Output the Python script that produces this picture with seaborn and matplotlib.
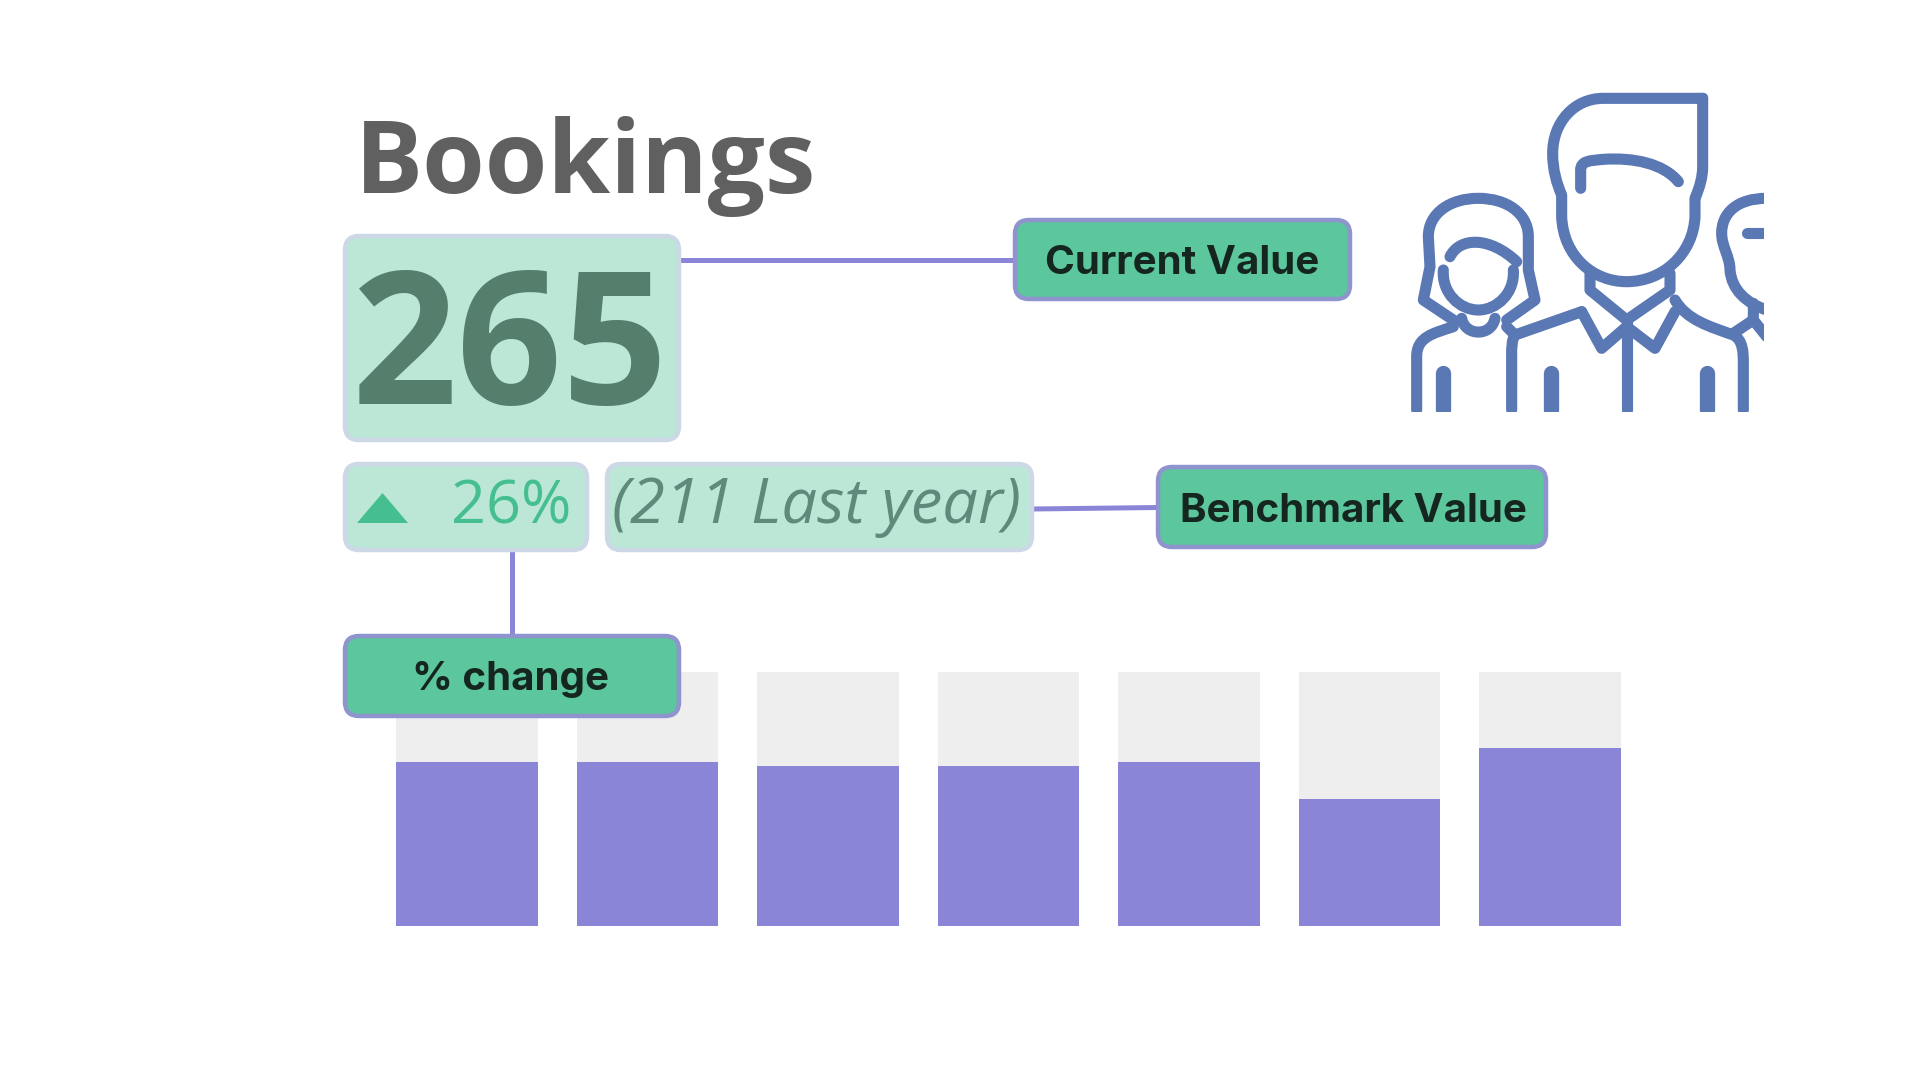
import matplotlib
matplotlib.use("Agg")
import matplotlib.pyplot as plt
from matplotlib.patches import FancyBboxPatch, PathPatch, Polygon, Rectangle
from matplotlib.path import Path
import pandas as pd
import seaborn as sns

# bar chart values (share of the full grey bar, in %)
days = ["d1", "d2", "d3", "d4", "d5", "d6", "d7"]
filled = [64.5, 64.5, 63, 63, 64.5, 50, 70]
full = [100, 100, 100, 100, 100, 100, 100]

title = "Bookings"
current_value = "265"
change_text = "26%"
benchmark_text = "(211 Last year)"
label_current = "Current Value"
label_benchmark = "Benchmark Value"
label_change = "% change"

W, H = 1920, 1080
PURPLE = "#8a85d6"
BORDER = "#8f94cf"
GREEN = "#5cc69d"
PALE = "#bce7d6"
PALE_EDGE = "#cdd8e6"
ICON = "#5a78b4"
INK = "#14261f"

sns.set_theme(style="white")
plt.rcParams["font.family"] = ["Open Sans", "DejaVu Sans"]

fig = plt.figure(figsize=(19.2, 10.8), dpi=100, facecolor="white")

# bars first, they sit under the % change label
ax = fig.add_axes([376.5 / W, 1 - 926 / H, (1640.5 - 376.5) / W, 254 / H])
df = pd.DataFrame({"day": days, "filled": filled, "full": full})
sns.barplot(data=df, x="day", y="full", color="#eeeeee", width=0.784, saturation=1, linewidth=0, ax=ax)
sns.barplot(data=df, x="day", y="filled", color=PURPLE, width=0.784, saturation=1, linewidth=0, ax=ax)
ax.set_xlim(-0.5, 6.5)
ax.set_ylim(0, 100)
ax.axis("off")

# overlay in pixel coordinates for the annotation boxes and the icon
ov = fig.add_axes([0, 0, 1, 1], facecolor="none")
ov.set_xlim(0, W)
ov.set_ylim(H, 0)
ov.axis("off")


def box(x0, y0, x1, y1, face, edge, lw=3.2, r=14, z=3):
    ov.add_patch(FancyBboxPatch((x0 + r, y0 + r), x1 - x0 - 2 * r, y1 - y0 - 2 * r,
                                boxstyle=f"round,pad={r},rounding_size={r}",
                                fc=face, ec=edge, lw=lw, zorder=z))


def stroke(points, lw=8, clip=None):
    # points: (x, y) starts a line, (x, y) pairs follow; 6-tuples are curve segments
    verts = [points[0]]
    codes = [Path.MOVETO]
    for p in points[1:]:
        if len(p) == 2:
            verts.append(p)
            codes.append(Path.LINETO)
        else:
            verts += [(p[0], p[1]), (p[2], p[3]), (p[4], p[5])]
            codes += [Path.CURVE4] * 3
    verts = [(1400 + x / 3, 70 + y / 3) for x, y in verts]
    patch = PathPatch(Path(verts, codes), fc="none", ec=ICON, lw=lw, capstyle="round",
                      joinstyle="round", zorder=2)
    ov.add_patch(patch)
    patch.set_clip_path(Rectangle((1400, 70), 363.5, 342, transform=ov.transData))


# connector lines
ov.plot([680, 1015], [260, 260], color=PURPLE, lw=3.6, zorder=1, solid_capstyle="butt")
ov.plot([1032, 1158], [509, 507.5], color=PURPLE, lw=3.6, zorder=1, solid_capstyle="butt")
ov.plot([512, 512], [550, 637], color=PURPLE, lw=3.6, zorder=1, solid_capstyle="butt")

# blurred widget boxes
box(345, 236, 679, 440, PALE, PALE_EDGE)
box(345, 464, 587, 550, PALE, PALE_EDGE)
box(607, 464, 1032, 550, PALE, PALE_EDGE)

ov.text(355, 193, title, fontsize=73, fontweight="bold", color="#606060", va="baseline", ha="left")
ov.text(352, 404, current_value, fontsize=133, fontweight="bold", color="#557f6c", va="baseline", ha="left", zorder=4)
ov.text(571, 523, change_text, fontsize=44, fontweight=500, color="#45bf8f", va="baseline", ha="right", zorder=4)
ov.text(612, 523, benchmark_text, fontsize=45.5, fontweight=500, style="italic", color="#5f8a7b", va="baseline", ha="left", zorder=4)
ov.add_patch(Polygon([(357, 523), (408, 523), (382.5, 493)], closed=True, fc="#45bf8f", ec="none", zorder=4))

# callout labels
box(1015, 220, 1350, 299, GREEN, BORDER)
box(1158, 467, 1546, 547, GREEN, BORDER)
box(345, 636, 679, 716, GREEN, BORDER)
label_font = dict(fontsize=29, fontweight="bold", color=INK, ha="center", va="center_baseline", zorder=4,
                  family=["Inter", "DejaVu Sans"])
ov.text(1182.5, 259, label_current, **label_font)
ov.text(1353.5, 507, label_benchmark, **label_font)
ov.text(511, 676, label_change, **label_font)

# people icon
stroke([(908, 85), (610, 85), (520, 85, 458, 160, 458, 250), (458, 300, 470, 340, 485, 375), (485, 440),
        (490, 560, 580, 635, 680, 635), (790, 635, 880, 550, 885, 440), (885, 385),
        (900, 350, 908, 320, 908, 290), (908, 85)])
stroke([(542, 355), (542, 300), (542, 272, 570, 272, 610, 268), (700, 262, 790, 280, 835, 335)])
stroke([(570, 610), (570, 660), (680, 750), (810, 660), (810, 610)])
stroke([(545, 725), (605, 835), (680, 770), (765, 835), (825, 725)])
stroke([(680, 750), (680, 1020)])
stroke([(545, 725), (345, 795), (335, 810, 335, 830, 335, 860), (335, 1020)])
stroke([(825, 690), (860, 750, 930, 770, 1000, 795), (1030, 810, 1030, 850, 1030, 880), (1030, 1020)])
stroke([(130, 910), (130, 1020)], lw=11)
stroke([(452, 910), (452, 1020)], lw=11)
stroke([(920, 910), (920, 1020)], lw=11)
# woman on the left
stroke([(160, 750), (70, 690), (90, 590), (85, 500), (85, 430, 150, 385, 235, 385),
        (320, 385, 385, 430, 385, 500), (385, 600), (405, 690), (320, 750)])
stroke([(130, 600), (125, 670, 180, 720, 235, 720), (290, 720, 345, 670, 340, 600)])
stroke([(150, 560), (180, 500, 270, 500, 350, 575)])
stroke([(185, 745), (195, 800, 275, 800, 285, 745)])
stroke([(160, 770), (100, 790, 50, 800, 50, 860), (50, 1020)])
stroke([(320, 770), (345, 795)])
# third person, cut off by the image edge
stroke([(1100, 385), (1010, 385, 965, 430, 965, 490), (965, 530, 990, 560, 990, 600),
        (995, 660, 1040, 700, 1100, 720)])
stroke([(1040, 488), (1100, 488)])
stroke([(1060, 700), (1060, 750), (1100, 800)])
stroke([(1000, 790), (1060, 750)])

fig.savefig("out.png", dpi=100)
